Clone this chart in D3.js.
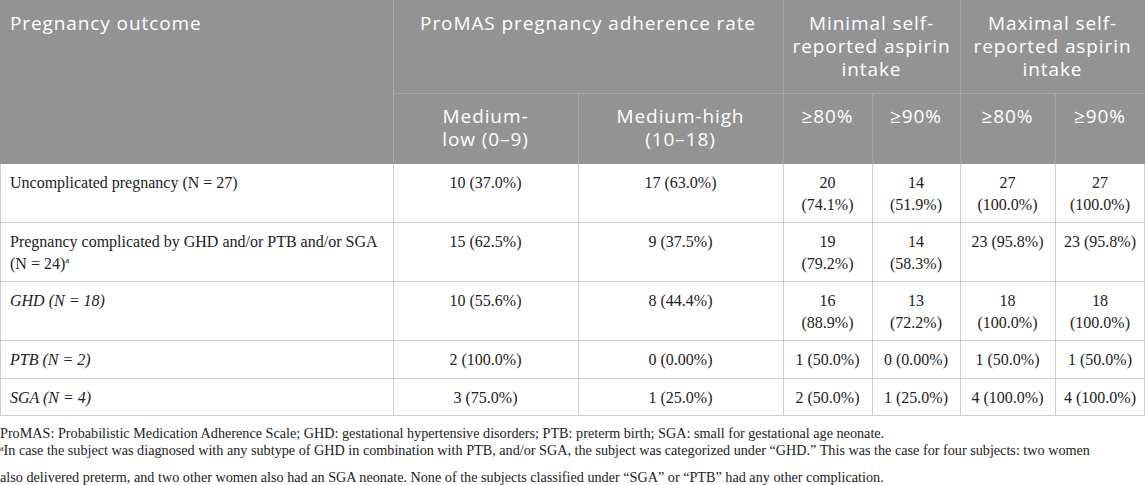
<!DOCTYPE html>
<html>
<head>
<meta charset="utf-8">
<script src="https://cdn.jsdelivr.net/npm/d3@7"></script>
<style>
  body { margin: 0; background: #fff; }
  .head-text { font-family: "Open Sans", sans-serif; font-size: 19px; letter-spacing: 0.9px; fill: #fff; }
  .cell-text { font-family: "Liberation Serif", serif; font-size: 16px; fill: #222; }
  .note-text { font-family: "Liberation Serif", serif; font-size: 14.2px; fill: #222; }
</style>
</head>
<body>
<div id="wrapper"></div>
<script>
// table data
const rowLabels = [
  "Uncomplicated pregnancy (N = 27)",
  "Pregnancy complicated by GHD and/or PTB and/or SGA (N = 24)",
  "GHD (N = 18)",
  "PTB (N = 2)",
  "SGA (N = 4)"
]
const rowNotes = ["", "a", "", "", ""]
const rowIsSubgroup = [false, false, true, true, true]

const mediumLow = ["10 (37.0%)", "15 (62.5%)", "10 (55.6%)", "2 (100.0%)", "3 (75.0%)"]
const mediumHigh = ["17 (63.0%)", "9 (37.5%)", "8 (44.4%)", "0 (0.00%)", "1 (25.0%)"]
const minimal80 = ["20 (74.1%)", "19 (79.2%)", "16 (88.9%)", "1 (50.0%)", "2 (50.0%)"]
const minimal90 = ["14 (51.9%)", "14 (58.3%)", "13 (72.2%)", "0 (0.00%)", "1 (25.0%)"]
const maximal80 = ["27 (100.0%)", "23 (95.8%)", "18 (100.0%)", "1 (50.0%)", "4 (100.0%)"]
const maximal90 = ["27 (100.0%)", "23 (95.8%)", "18 (100.0%)", "1 (50.0%)", "4 (100.0%)"]

const firstHeader = "Pregnancy outcome"
const groupHeaders = [
  ["ProMAS pregnancy adherence rate"],
  ["Minimal self-", "reported aspirin", "intake"],
  ["Maximal self-", "reported aspirin", "intake"]
]
const subHeaders = [
  ["Medium-", "low (0–9)"],
  ["Medium-high", "(10–18)"],
  ["≥80%"], ["≥90%"], ["≥80%"], ["≥90%"]
]

// footnotes, one array of lines each
const footnotes = [
  ["ProMAS: Probabilistic Medication Adherence Scale; GHD: gestational hypertensive disorders; PTB: preterm birth; SGA: small for gestational age neonate."],
  ["In case the subject was diagnosed with any subtype of GHD in combination with PTB, and/or SGA, the subject was categorized under \u201cGHD.\u201d This was the case for four subjects: two women",
   "also delivered preterm, and two other women also had an SGA neonate. None of the subjects classified under \u201cSGA\u201d or \u201cPTB\u201d had any other complication."]
]
const footnoteMarks = ["", "a"]

function drawTable() {
  const width = 1145
  const height = 485

  // column edges, first column is the row label
  const colEdges = [0, 393, 578, 783, 872, 960, 1055, 1145]
  const columns = [mediumLow, mediumHigh, minimal80, minimal90, maximal80, maximal90]

  const headPad = 12
  const headLine = 23
  const cellPadX = 8.8
  const cellPadY = 8
  const cellLine = 21.5

  const svg = d3.select("#wrapper")
    .append("svg")
      .attr("width", width)
      .attr("height", height)

  // hidden text for measuring
  const measurer = svg.append("text").attr("class", "cell-text").attr("x", -999).attr("y", -999)
  const measure = (str, cls, italic) => {
    measurer.attr("class", cls).style("font-style", italic ? "italic" : "normal").text(str)
    return measurer.node().getComputedTextLength()
  }
  const wrap = (str, maxWidth, cls, italic) => {
    const words = str.split(" ")
    const lines = []
    let line = words[0]
    for (let i = 1; i < words.length; i++) {
      const next = line + " " + words[i]
      if (measure(next, cls, italic) > maxWidth) {
        lines.push(line)
        line = words[i]
      } else {
        line = next
      }
    }
    lines.push(line)
    return lines
  }

  // header geometry
  const head1 = headPad * 2 + headLine * d3.max(groupHeaders, d => d.length)
  const head2 = head1 + headPad * 2 + headLine * d3.max(subHeaders, d => d.length) + 1

  svg.append("rect")
      .attr("width", width)
      .attr("height", head2)
      .attr("fill", "#939393")

  // body rows: wrap every cell, row height from the tallest cell
  const rows = rowLabels.map((label, i) => {
    const italic = rowIsSubgroup[i]
    const labelLines = wrap(label, colEdges[1] - 2 * 10, "cell-text", italic)
    const cells = columns.map((col, j) =>
      wrap(col[i], colEdges[j + 2] - colEdges[j + 1] - 2 * cellPadX, "cell-text", false))
    const nLines = d3.max([labelLines.length, ...cells.map(c => c.length)])
    return { labelLines, cells, italic, note: rowNotes[i], nLines }
  })

  let yCursor = head2
  rows.forEach(r => {
    r.y0 = yCursor
    r.h = cellPadY * 2 + cellLine * r.nLines
    yCursor += r.h
  })
  const tableBottom = yCursor

  // grid lines
  const grid = svg.append("g")
      .attr("fill", "none")
      .attr("shape-rendering", "crispEdges")

  // header grid
  const headColor = "#a8a8a8"
  ;[1, 3, 5].forEach(k => {
    grid.append("line")
        .attr("x1", colEdges[k] + 0.5).attr("x2", colEdges[k] + 0.5)
        .attr("y1", 0).attr("y2", head2)
        .attr("stroke", headColor)
  })
  ;[2, 4, 6].forEach(k => {
    grid.append("line")
        .attr("x1", colEdges[k] + 0.5).attr("x2", colEdges[k] + 0.5)
        .attr("y1", head1).attr("y2", head2)
        .attr("stroke", headColor)
  })
  grid.append("line")
      .attr("x1", colEdges[1]).attr("x2", width)
      .attr("y1", head1 + 0.5).attr("y2", head1 + 0.5)
      .attr("stroke", headColor)

  // body grid
  const bodyColor = "#cfcfcf"
  grid.selectAll(".hline")
    .data(rows)
    .join("line")
      .attr("class", "hline")
      .attr("x1", 0).attr("x2", width)
      .attr("y1", d => d.y0 + d.h - 0.5)
      .attr("y2", d => d.y0 + d.h - 0.5)
      .attr("stroke", bodyColor)

  grid.selectAll(".vline")
    .data(colEdges.slice(1, -1).concat([0.0, width - 1]))
    .join("line")
      .attr("class", "vline")
      .attr("x1", d => d + 0.5).attr("x2", d => d + 0.5)
      .attr("y1", head2).attr("y2", tableBottom)
      .attr("stroke", bodyColor)

  // multi-line text, one tspan per line
  const addLines = (g, lines, x, yTop, anchor, cls, lh) => {
    const t = g.append("text")
        .attr("class", cls)
        .attr("text-anchor", anchor)
    lines.forEach((ln, i) => {
      t.append("tspan")
          .attr("x", x)
          .attr("y", yTop + lh * i + lh / 2)
          .attr("dy", "0.35em")
          .text(ln)
    })
    return t
  }

  // header text
  const head = svg.append("g")
  addLines(head, [firstHeader], 10, headPad, "start", "head-text", headLine)
  groupHeaders.forEach((lines, k) => {
    const cx = (colEdges[1 + 2 * k] + colEdges[3 + 2 * k]) / 2
    addLines(head, lines, cx, headPad, "middle", "head-text", headLine)
  })
  subHeaders.forEach((lines, j) => {
    const cx = (colEdges[j + 1] + colEdges[j + 2]) / 2
    addLines(head, lines, cx, head1 + headPad, "middle", "head-text", headLine)
  })

  // body text
  const body = svg.append("g")
  rows.forEach(r => {
    const t = addLines(body, r.labelLines, 10, r.y0 + cellPadY, "start", "cell-text", cellLine)
    t.style("font-style", r.italic ? "italic" : "normal")
    if (r.note) {
      t.select("tspan:last-child").append("tspan")
          .attr("font-size", "9px")
          .attr("dy", "-0.6em")
          .attr("font-style", "normal")
          .text(r.note)
    }
    r.cells.forEach((lines, j) => {
      const cx = (colEdges[j + 1] + colEdges[j + 2]) / 2
      addLines(body, lines, cx, r.y0 + cellPadY, "middle", "cell-text", cellLine)
    })
  })

  // footnotes
  const notes = svg.append("g")
  const noteLine = 22
  let noteY = tableBottom + 6
  footnotes.forEach((lines, i) => {
    const t = notes.append("text").attr("class", "note-text")
    lines.forEach((ln, k) => {
      const ts = t.append("tspan")
          .attr("x", 0)
          .attr("y", noteY + noteLine * k + noteLine / 2)
          .attr("dy", "0.35em")
      if (k === 0 && footnoteMarks[i]) {
        ts.append("tspan")
            .attr("font-size", "8px")
            .attr("dy", "-0.5em")
            .text(footnoteMarks[i])
        ts.append("tspan")
            .attr("dy", "0.25em")
            .text(ln)
      } else {
        ts.text(ln)
      }
    })
    noteY += noteLine * lines.length
  })

  measurer.remove()
}
drawTable()
</script>
</body>
</html>
